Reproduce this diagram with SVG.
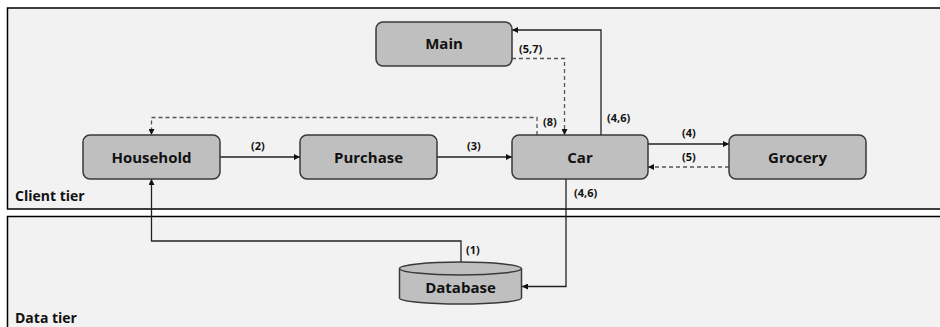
<svg xmlns="http://www.w3.org/2000/svg" width="940" height="327" viewBox="0 0 940 327">
  <style>
    .tier { fill: #f2f2f2; stroke: #000; stroke-width: 1.5; }
    .tierlabel { font-family: "Open Sans", "DejaVu Sans", sans-serif; font-weight: bold; font-size: 14px; fill: #111; }
    .box { fill: #bfbfbf; stroke: #3a3a3a; stroke-width: 1.5; }
    .name { font-family: "Open Sans", "DejaVu Sans", sans-serif; font-weight: bold; font-size: 15px; fill: #111; text-anchor: middle; }
    .tag { font-family: "Open Sans", "DejaVu Sans", sans-serif; font-weight: bold; font-size: 11px; fill: #111; }
    .solid { fill: none; stroke: #222; stroke-width: 1.3; marker-end: url(#arrow); }
    .dashed { fill: none; stroke: #555; stroke-width: 1.3; stroke-dasharray: 4 3; marker-end: url(#arrow); }
  </style>
  <defs>
    <marker id="arrow" viewBox="0 0 10 10" refX="10" refY="5" markerWidth="6" markerHeight="6" markerUnits="userSpaceOnUse" orient="auto">
      <path d="M0,0 L10,5 L0,10 z" fill="#111"/>
    </marker>
  </defs>

  <!-- tiers -->
  <g id="client-tier">
    <rect class="tier" x="7.5" y="8" width="940" height="201"/>
    <text class="tierlabel" x="15" y="201">Client tier</text>
  </g>
  <g id="data-tier">
    <rect class="tier" x="7.5" y="216.5" width="940" height="120"/>
    <text class="tierlabel" x="15" y="323">Data tier</text>
  </g>

  <!-- connectors -->
  <g id="connectors">
    <path class="solid" d="M220,157 H300"/>
    <path class="solid" d="M437,157 H512"/>
    <path class="solid" d="M648,144 H729"/>
    <path class="dashed" d="M729,167 H648"/>
    <path class="solid" d="M601,135 V30 H512"/>
    <path class="dashed" d="M512,58.5 H564.5 V135"/>
    <path class="dashed" d="M537,135 V117.5 H151.5 V135"/>
    <path class="solid" d="M566,179 V286.5 H522"/>
    <path class="solid" d="M461,262 V241 H151.5 V179"/>
    <text class="tag" x="251" y="150">(2)</text>
    <text class="tag" x="467" y="150">(3)</text>
    <text class="tag" x="682" y="137">(4)</text>
    <text class="tag" x="682" y="161">(5)</text>
    <text class="tag" x="607" y="122">(4,6)</text>
    <text class="tag" x="519" y="53">(5,7)</text>
    <text class="tag" x="543" y="126">(8)</text>
    <text class="tag" x="574" y="197">(4,6)</text>
    <text class="tag" x="466" y="254">(1)</text>
  </g>

  <!-- nodes -->
  <g id="main">
    <rect class="box" x="376" y="22" width="136" height="44" rx="7"/>
    <text class="name" x="444" y="49">Main</text>
  </g>
  <g id="household">
    <rect class="box" x="83" y="135" width="137" height="44" rx="7"/>
    <text class="name" x="151.5" y="162.5">Household</text>
  </g>
  <g id="purchase">
    <rect class="box" x="300" y="135" width="137" height="44" rx="7"/>
    <text class="name" x="368.5" y="162.5">Purchase</text>
  </g>
  <g id="car">
    <rect class="box" x="512" y="135" width="136" height="44" rx="7"/>
    <text class="name" x="580" y="162.5">Car</text>
  </g>
  <g id="grocery">
    <rect class="box" x="729" y="135" width="137" height="44" rx="7"/>
    <text class="name" x="797.5" y="162.5">Grocery</text>
  </g>
  <g id="database">
    <path class="box" d="M399.5,268.5 V298 A61,6 0 0 0 521.5,298 V268.5"/>
    <ellipse class="box" cx="460.5" cy="268.5" rx="61" ry="6.5"/>
    <text class="name" x="460.5" y="292.5">Database</text>
  </g>
</svg>
